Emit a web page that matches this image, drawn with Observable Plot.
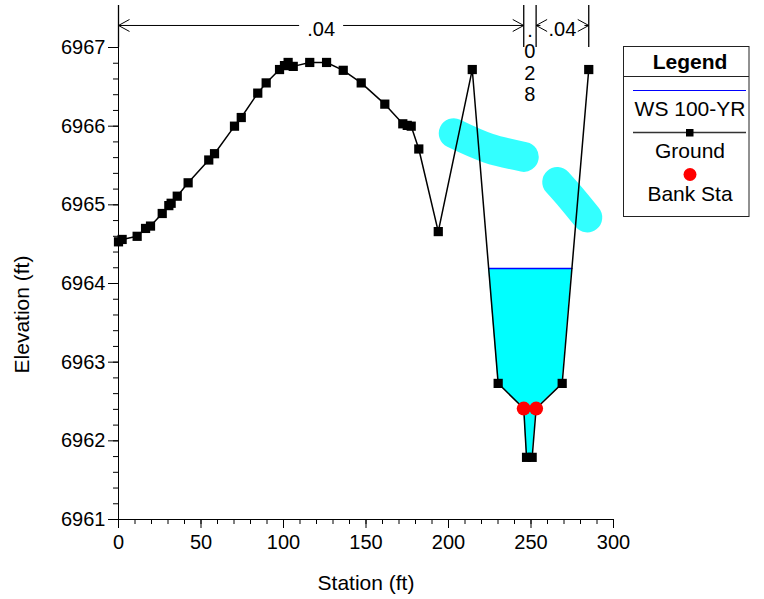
<!DOCTYPE html>
<html><head><meta charset="utf-8">
<script src="https://cdn.jsdelivr.net/npm/d3@7"></script>
<script src="https://cdn.jsdelivr.net/npm/@observablehq/plot@0.6"></script>
<style>
body{margin:0;background:#fff;font-family:"Liberation Sans",Arial,sans-serif;}
#wrap{position:relative;width:764px;height:599px;}
#legend{position:absolute;left:623px;top:46px;}
</style></head><body><div id="wrap"></div>
<script>
// ---- data ----
const station = [0, 2.2, 11.3, 16.4, 19.4, 26.5, 30.5, 31.9, 35.6, 42.2, 54.7, 58.2, 70.3, 74.4, 84.4, 89.5, 97.6, 100.6, 102.8, 105.9, 115.9, 126.1, 136.2, 147.1, 161.4, 172.3, 175.0, 177.4, 182.0, 193.8, 214.4, 230.1, 245.6, 247.3, 250.7, 253.1, 268.9, 285.0];
const elevation = [6964.53, 6964.56, 6964.60, 6964.70, 6964.73, 6964.89, 6964.99, 6965.02, 6965.11, 6965.28, 6965.57, 6965.65, 6966.00, 6966.11, 6966.42, 6966.55, 6966.72, 6966.77, 6966.81, 6966.76, 6966.81, 6966.81, 6966.71, 6966.55, 6966.28, 6966.03, 6966.01, 6966.00, 6965.71, 6964.66, 6966.72, 6962.73, 6962.41, 6961.79, 6961.79, 6962.41, 6962.73, 6966.72];
const wsElevation = 6964.19;
const bankStations = [245.6, 253.1];
const bankElevations = [6962.41, 6962.41];
const nBreaks = [0, 245.6, 253.1, 285];
const nValues = [".04", ".028", ".04"];
const blob1Station = [203.2, 224.2, 245.6];
const blob1Elevation = [6965.91, 6965.72, 6965.61];
const blob2Station = [265.9, 273.9, 284.1];
const blob2Elevation = [6965.29, 6965.10, 6964.84];
const xTicks = [0, 50, 100, 150, 200, 250, 300];
const yTicks = [6961, 6962, 6963, 6964, 6965, 6966, 6967];

// ---- layout ----
const W = 764, H = 599, mL = 118, mR = 151, mT = 5, mB = 80;
const xDomain = [0, 300];
const yDomain = [6961, 6967.534];
const pxPerFt = (W - mL - mR) / (xDomain[1] - xDomain[0]);
const nLineTop = 6967;        // bottom end of the n-value divider lines
const nArrowElev = 6967.28;   // elevation of the n-value arrows
const font = "Liberation Sans, Arial, sans-serif";

const ground = station.map((s, i) => ({s, e: elevation[i]}));
const banks = bankStations.map((s, i) => ({s, e: bankElevations[i]}));
const blob1 = blob1Station.map((s, i) => ({s, e: blob1Elevation[i]}));
const blob2 = blob2Station.map((s, i) => ({s, e: blob2Elevation[i]}));

// water polygon: from the lowest point walk out to the WS crossing
let iMin = d3.minIndex(elevation);
let iL = iMin; while (iL > 0 && elevation[iL - 1] < wsElevation) iL--;
let iR = iMin; while (iR < elevation.length - 1 && elevation[iR + 1] < wsElevation) iR++;
function cross(i, j) {
  const t = (wsElevation - elevation[i]) / (elevation[j] - elevation[i]);
  return station[i] + t * (station[j] - station[i]);
}
const sLeft = cross(iL - 1, iL), sRight = cross(iR + 1, iR);
const water = [{s: sLeft, e: wsElevation}, ...ground.slice(iL, iR + 1), {s: sRight, e: wsElevation}];
const wsLine = [{s: sLeft, e: wsElevation}, {s: sRight, e: wsElevation}];

// n-value annotations
const textHalfPx = 14, gapPx = 22;
const sections = nValues.map((v, i) => {
  const a = nBreaks[i], b = nBreaks[i + 1], c = (a + b) / 2;
  return {a, b, c, v, wide: (b - a) * pxPerFt > 2 * textHalfPx + 6};
});
const wide = sections.filter(d => d.wide);
const narrow = sections.filter(d => !d.wide);
const gapFt = gapPx / pxPerFt;
const shafts = wide.flatMap(d => [
  {x1: d.a, x2: Math.max(d.a, d.c - gapFt)},
  {x1: Math.min(d.b, d.c + gapFt), x2: d.b}
]);
const chevL = {draw(ctx) { ctx.moveTo(11, -6); ctx.lineTo(0, 0); ctx.lineTo(11, 6); }};
const chevR = {draw(ctx) { ctx.moveTo(-11, -6); ctx.lineTo(0, 0); ctx.lineTo(-11, 6); }};

const minorX = d3.range(0, 301, 10);
const minorY = d3.range(0, 31).map(i => 6961 + i * 0.2);

const chart = Plot.plot({
  width: W, height: H,
  marginLeft: mL, marginRight: mR, marginTop: mT, marginBottom: mB,
  x: {domain: xDomain, label: null},
  y: {domain: yDomain, label: null},
  style: {fontFamily: font, fontSize: "20px", background: "white", color: "black", overflow: "visible"},
  marks: [
    Plot.line(blob1, {x: "s", y: "e", stroke: "#33ffff", strokeWidth: 30, strokeLinecap: "round", strokeLinejoin: "round", curve: "catmull-rom"}),
    Plot.line(blob2, {x: "s", y: "e", stroke: "#33ffff", strokeWidth: 30, strokeLinecap: "round", strokeLinejoin: "round", curve: "catmull-rom"}),
    Plot.areaY(water, {x: "s", y1: "e", y2: () => wsElevation, fill: "#00ffff", curve: "linear"}),
    Plot.line(wsLine, {x: "s", y: "e", stroke: "#0000ff", strokeWidth: 1.5}),
    Plot.line(ground, {x: "s", y: "e", stroke: "black", strokeWidth: 1.5}),
    Plot.dot(ground, {x: "s", y: "e", symbol: "square", r: 5.2, fill: "black"}),
    Plot.dot(banks, {x: "s", y: "e", r: 7, fill: "#ff0000"}),
    // axes
    Plot.ruleY([yDomain[0]], {stroke: "black"}),
    Plot.ruleX([xDomain[0]], {stroke: "black"}),
    Plot.axisX({ticks: minorX, tickSize: 5, tickFormat: () => ""}),
    Plot.axisX({ticks: xTicks, tickSize: 9, tickPadding: 6, tickFormat: d3.format("d"), fontSize: 20}),
    Plot.axisY({ticks: minorY, tickSize: 5, tickFormat: () => ""}),
    Plot.axisY({ticks: yTicks, tickSize: 10, tickPadding: 3, tickFormat: d3.format("d"), fontSize: 20}),
    Plot.text(["Station (ft)"], {frameAnchor: "bottom", lineAnchor: "middle", dy: 64, fontSize: 21}),
    Plot.text(["Elevation (ft)"], {frameAnchor: "left", textAnchor: "middle", lineAnchor: "middle", dx: -96, dy: 52, rotate: -90, fontSize: 21}),
    // Manning's n annotations
    Plot.ruleX(nBreaks, {x: d => d, y1: nLineTop, y2: yDomain[1], stroke: "black", strokeWidth: 1.3}),
    Plot.link(shafts, {x1: "x1", x2: "x2", y1: () => nArrowElev, y2: () => nArrowElev, stroke: "black", strokeWidth: 1}),
    Plot.dot(wide, {x: "a", y: () => nArrowElev, symbol: chevL, fill: "none", stroke: "black", strokeWidth: 1}),
    Plot.dot(wide, {x: "b", y: () => nArrowElev, symbol: chevR, fill: "none", stroke: "black", strokeWidth: 1}),
    Plot.text(wide, {x: "c", y: () => nArrowElev, text: "v", dy: 4.5, fontSize: 20}),
    Plot.text(narrow, {x: "c", y: () => nArrowElev, text: d => d.v.split("").join("\n"), lineAnchor: "top", lineHeight: 1.07, dy: -3.6, fontSize: 20})
  ]
});
const wrap = document.getElementById("wrap");
wrap.appendChild(chart);

// legend
const legendItems = ["WS 100-YR", "Ground", "Bank Sta"];
const ns = "http://www.w3.org/2000/svg";
const lg = document.createElementNS(ns, "svg");
lg.setAttribute("id", "legend");
lg.setAttribute("width", 127); lg.setAttribute("height", 172);
lg.innerHTML = `
<rect x="0.5" y="0.5" width="125.5" height="170" fill="white" stroke="#222" stroke-width="1"/>
<line x1="0.5" x2="126" y1="30.5" y2="30.5" stroke="#222"/>
<text x="67" y="15.5" text-anchor="middle" dominant-baseline="central" font-family="${font}" font-size="21" font-weight="bold">Legend</text>
<line x1="10" x2="123" y1="44.5" y2="44.5" stroke="#0000ff" stroke-width="1"/>
<text x="67" y="62.5" text-anchor="middle" dominant-baseline="central" font-family="${font}" font-size="21">${legendItems[0]}</text>
<line x1="10" x2="123" y1="86.5" y2="86.5" stroke="#333" stroke-width="1.5"/>
<rect x="63" y="83" width="7.5" height="7.5" fill="black"/>
<text x="67" y="104" text-anchor="middle" dominant-baseline="central" font-family="${font}" font-size="21">${legendItems[1]}</text>
<circle cx="67" cy="128.5" r="6.5" fill="#ff0000"/>
<text x="67" y="147.5" text-anchor="middle" dominant-baseline="central" font-family="${font}" font-size="21">${legendItems[2]}</text>`;
wrap.appendChild(lg);
</script></body></html>
